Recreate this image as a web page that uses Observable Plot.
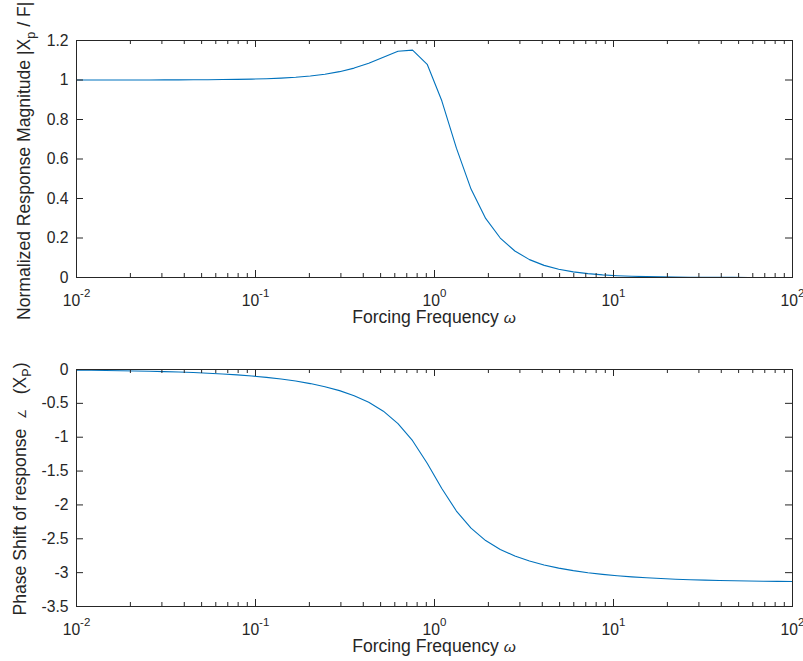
<!DOCTYPE html>
<html><head><meta charset="utf-8">
<script src="https://cdn.jsdelivr.net/npm/d3@7"></script>
<script src="https://cdn.jsdelivr.net/npm/@observablehq/plot@0.6"></script>
<style>
body{margin:0;background:#fff;}
#chart{width:803px;height:661px;position:relative;}
#chart svg{display:block;}
</style></head><body><div id="chart"></div>
<script>
// ---- data ----
const omega = [0.01, 0.012068, 0.014563, 0.017575, 0.02121, 0.025595, 0.030888, 0.037276, 0.044984, 0.054287,
  0.065513, 0.07906, 0.09541, 0.11514, 0.13895, 0.16768, 0.20236, 0.24421, 0.29471, 0.35565,
  0.42919, 0.51795, 0.62506, 0.75431, 0.9103, 1.0985, 1.3257, 1.5999, 1.9307, 2.33,
  2.8118, 3.3932, 4.0949, 4.9417, 5.9636, 7.1969, 8.6851, 10.481, 12.649, 15.264,
  18.421, 22.23, 26.827, 32.375, 39.069, 47.149, 56.899, 68.665, 82.864, 100];
const magnitude = [1.0000, 1.0001, 1.0001, 1.0002, 1.0002, 1.0003, 1.0005, 1.0007, 1.0010, 1.0015,
  1.0022, 1.0031, 1.0045, 1.0066, 1.0096, 1.0140, 1.0202, 1.0293, 1.0422, 1.0603,
  1.0848, 1.1155, 1.1456, 1.1511, 1.0796, 0.8946, 0.6549, 0.4476, 0.2992, 0.1998,
  0.1341, 0.0905, 0.0614, 0.0418, 0.0285, 0.0195, 0.0133, 0.0091, 0.0063, 0.0043,
  0.0030, 0.0020, 0.0014, 0.0010, 0.0007, 0.0004, 0.0003, 0.0002, 0.0001, 0.0001];
const phase = [-0.0100, -0.0121, -0.0146, -0.0176, -0.0212, -0.0256, -0.0309, -0.0373, -0.0450, -0.0544,
  -0.0657, -0.0794, -0.0960, -0.1162, -0.1408, -0.1709, -0.2080, -0.2541, -0.3122, -0.3866,
  -0.4842, -0.6156, -0.7982, -1.0517, -1.3847, -1.7568, -2.0900, -2.3434, -2.5261, -2.6572,
  -2.7549, -2.8292, -2.8879, -2.9337, -2.9707, -3.0008, -3.0254, -3.0456, -3.0622, -3.0759,
  -3.0871, -3.0965, -3.1043, -3.1107, -3.1160, -3.1204, -3.1240, -3.1270, -3.1295, -3.1316];

const xMajorTicks = [0.01, 0.1, 1, 10, 100];
const xTickExponents = ["-2", "-1", "0", "1", "2"];
const xMinorTicks = [0.02, 0.03, 0.04, 0.05, 0.06, 0.07, 0.08, 0.09,
  0.2, 0.3, 0.4, 0.5, 0.6, 0.7, 0.8, 0.9,
  2, 3, 4, 5, 6, 7, 8, 9,
  20, 30, 40, 50, 60, 70, 80, 90];
const magTicks = [0, 0.2, 0.4, 0.6, 0.8, 1, 1.2];
const phaseTicks = [0, -0.5, -1, -1.5, -2, -2.5, -3, -3.5];

const xLabelText = "Forcing Frequency ";
const xLabelSymbol = "ω";

// ---- layout ----
const W = 803, ML = 76, MR = 11;
const FW = W - ML - MR;
const AXIS = "#262626", LINE = "#0072BD";
const FONT = "'Liberation Sans', Arial, Helvetica, sans-serif";
const NS = "http://www.w3.org/2000/svg";
const LABEL_SIZE = "17.6px";

function panel({yValues, yDomain, yTicks, height, marginTop, marginBottom, yLabel, yLabelX, yLabelY, yLabelAnchor}) {
  const FH = height - marginTop - marginBottom;
  const data = omega.map((w, i) => ({w, v: yValues[i]}));
  const svg = Plot.plot({
    width: W, height, marginLeft: ML, marginRight: MR, marginTop, marginBottom,
    style: {fontSize: "15.7px", fontFamily: FONT, color: AXIS, background: "white"},
    x: {type: "log", domain: [0.01, 100], axis: null},
    y: {domain: yDomain},
    marks: [
      Plot.line(data, {x: "w", y: "v", stroke: LINE, strokeWidth: 1.1}),
      // inward ticks on all four sides
      Plot.tickX(xMajorTicks, {x: d => d, stroke: AXIS, insetTop: FH - 7}),
      Plot.tickX(xMajorTicks, {x: d => d, stroke: AXIS, insetBottom: FH - 7}),
      Plot.tickX(xMinorTicks, {x: d => d, stroke: AXIS, insetTop: FH - 4}),
      Plot.tickX(xMinorTicks, {x: d => d, stroke: AXIS, insetBottom: FH - 4}),
      Plot.tickY(yTicks, {y: d => d, stroke: AXIS, insetLeft: FW - 7}),
      Plot.tickY(yTicks, {y: d => d, stroke: AXIS, insetRight: FW - 7}),
      Plot.frame({stroke: AXIS, strokeWidth: 1}),
      Plot.axisY({ticks: yTicks, tickSize: 0, tickPadding: 8, tickFormat: d => String(d), label: null, fill: AXIS}),
      Plot.text(xMajorTicks, {x: d => d, frameAnchor: "bottom", lineAnchor: "bottom", dy: 28,
        text: (d, i) => xTickExponents[i], fill: AXIS, textAnchor: "middle"})
    ]
  });
  // superscript exponents on x tick labels
  svg.querySelectorAll('g[aria-label="text"] text').forEach(t => {
    const e = t.textContent;
    t.textContent = "";
    const a = document.createElementNS(NS, "tspan"); a.textContent = "10"; t.appendChild(a);
    const b = document.createElementNS(NS, "tspan"); b.textContent = e;
    b.setAttribute("dy", "-9"); b.setAttribute("font-size", "11.5px"); t.appendChild(b);
  });
  const s = d3.select(svg);
  // x label
  const xl = s.append("text").attr("x", ML + FW / 2).attr("y", marginTop + FH + 46)
    .attr("text-anchor", "middle").attr("font-size", LABEL_SIZE).attr("fill", AXIS).attr("font-family", FONT);
  xl.append("tspan").text(xLabelText);
  xl.append("tspan").attr("font-style", "italic").attr("font-size", "15.5px").text(xLabelSymbol);
  // y label
  const yl = s.append("text").attr("transform", `translate(${yLabelX},${yLabelY}) rotate(-90)`)
    .attr("text-anchor", yLabelAnchor).attr("font-size", LABEL_SIZE).attr("fill", AXIS).attr("font-family", FONT);
  yLabel.forEach(p => {
    const t = yl.append("tspan").text(p.t);
    if (p.sub) t.attr("font-size", "12.5px").attr("dy", p.dy);
    if (p.back) t.attr("dy", p.back);
    if (p.small) t.attr("font-size", p.small);
  });
  return svg;
}

const magPanel = panel({
  yValues: magnitude, yDomain: [0, 1.2], yTicks: magTicks, height: 330, marginTop: 40, marginBottom: 53,
  yLabel: [{t: "Normalized Response Magnitude |X"}, {t: "p", sub: true, dy: 5}, {t: " / F|", back: -5}],
  yLabelX: 30, yLabelY: 320, yLabelAnchor: "start"
});
const phasePanel = panel({
  yValues: phase, yDomain: [-3.5, 0], yTicks: phaseTicks, height: 331, marginTop: 39, marginBottom: 55,
  yLabel: [{t: "Phase Shift of response  "}, {t: "∠", small: "11px"}, {t: "   (X"}, {t: "P", sub: true, dy: 5}, {t: ")", back: -5}],
  yLabelX: 26, yLabelY: 159, yLabelAnchor: "middle"
});
document.getElementById("chart").append(magPanel, phasePanel);
</script></body></html>
